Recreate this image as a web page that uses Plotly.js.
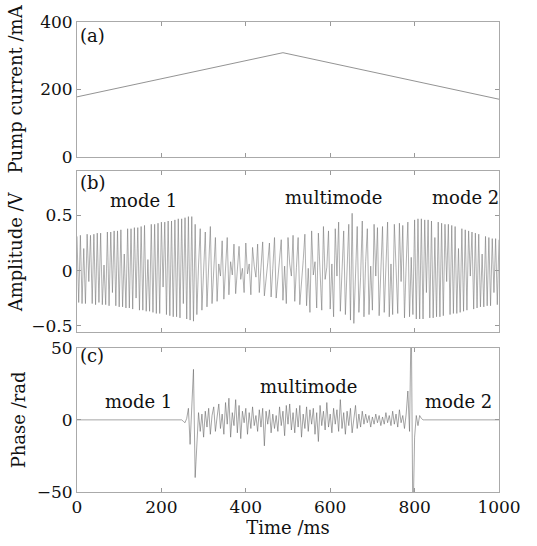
<!DOCTYPE html>
<html>
<head>
<meta charset="utf-8">
<script src="https://cdn.plot.ly/plotly-3.0.1.min.js"></script>
<style>html,body{margin:0;padding:0;background:#fff;}#chart{width:537px;height:546px;}</style>
</head>
<body>
<div id="chart"></div>
<script>
// ---- data ----
var currentTime = [0, 488, 1000];          // ms
var pumpCurrent = [178, 309, 171];         // mA

var SAMPLE_MS = 4;                         // sample spacing of the traces below (ms)
var amplitude = [
  0.31,-0.29,0.32,-0.30,0.2,-0.30,0.33,-0.1,0.32,-0.30,
  0.33,-0.31,0.34,-0.29,0.34,-0.31,0.05,-0.31,0.35,-0.32,
  0.35,-0.2,0.36,-0.32,0.36,-0.33,0.37,-0.33,0.15,-0.34,
  0.38,-0.34,0.38,-0.35,0.39,-0.25,0.39,-0.36,0.40,-0.36,
  0.41,-0.37,0.1,-0.37,0.42,-0.38,0.42,-0.39,0.43,-0.39,
  0.44,-0.15,0.44,-0.40,0.45,-0.41,0.45,-0.42,0.46,-0.42,
  0.47,-0.43,0.47,-0.3,0.48,-0.44,0.49,-0.45,0.49,-0.46,
  0.42,-0.40,0.05,0.38,-0.36,-0.02,0.35,-0.33,0.08,0.40,
  -0.30,0.02,0.30,-0.28,0.06,-0.05,0.27,-0.26,0.03,0.30,
  -0.22,0.08,-0.04,0.24,-0.21,0.05,0.22,-0.08,0.02,-0.20,
  0.25,-0.03,0.06,-0.22,0.21,0.04,-0.06,0.24,-0.20,0.03,
  0.26,-0.23,-0.04,0.07,0.25,-0.24,0.02,0.30,-0.25,-0.05,
  0.08,0.28,-0.27,0.04,-0.30,0.30,0.06,-0.05,0.32,-0.28,
  0.03,0.30,-0.31,-0.06,0.09,0.33,-0.32,0.02,-0.38,0.36,
  -0.04,0.08,-0.34,0.34,0.05,-0.36,0.40,-0.08,0.03,0.36,
  -0.35,0.06,-0.42,0.38,-0.05,0.44,-0.37,0.07,0.36,-0.40,
  0.02,0.42,-0.45,0.52,-0.48,0.06,0.40,-0.38,-0.06,0.45,
  -0.42,0.08,0.38,-0.40,0.04,-0.36,0.42,-0.05,0.39,-0.41,
  0.10,0.40,-0.38,-0.02,0.44,-0.42,0.06,-0.40,0.42,0.03,
  -0.39,0.43,-0.10,0.41,-0.43,0.05,0.44,-0.42,0.12,-0.40,0.46,-0.44,0.47,
  -0.44,0.47,-0.44,0.46,-0.20,0.46,-0.43,0.45,-0.43,0.30,
  -0.42,0.44,-0.42,0.43,-0.41,0.42,-0.10,0.42,-0.40,0.41,
  -0.39,0.40,-0.39,0.20,-0.38,0.38,-0.37,0.37,-0.36,0.36,
  -0.05,0.35,-0.35,0.34,-0.34,0.33,-0.33,0.15,-0.33,0.31,
  -0.32,0.30,-0.32,0.29,-0.20,0.29,-0.31,0.28
];
var phase = [
  0,0,0,0,0,0,0,0,0,0, 0,0,0,0,0,0,0,0,0,0,
  0,0,0,0,0,0,0,0,0,0, 0,0,0,0,0,0,0,0,0,0,
  0,0,0,0,0,0,0,0,0,0, 0,0,0,0,0,0,0,0,0,0,
  0,0,0,
  -1,-2,1,8,-17,11,35,-40,
  -15,5,-8,4,-12,6,-5,8,-10,3,
  9,-8,2,11,-6,4,-10,12,-3,15,
  -12,5,-4,14,-9,10,-13,6,-2,8,
  -10,5,-6,9,-4,3,-8,7,-5,8,
  -18,6,-3,7,-9,4,-6,3,-8,9,
  -4,6,-11,10,-3,11,-7,5,-9,8,
  -5,10,-12,4,-6,9,-8,7,-3,8,
  -10,5,-15,10,-4,6,-7,12,-5,4,
  -9,8,-3,7,-8,14,-6,5,-10,6,
  -4,8,-9,3,10,-6,4,-5,6,-3,
  4,-2,3,-5,2,-3,4,-2,3,-4,
  2,-3,5,-2,3,-4,6,-3,4,-5,
  7,-2,3,-6,4,20,-8,75,-75,-12,
  3,-4,3,1,
  0,0,0,0,0,0,0,0,0,0, 0,0,0,0,0,0,0,0,0,0,
  0,0,0,0,0,0,0,0,0,0, 0,0,0,0,0,0,0,0,0,0,
  0,0,0,0,0,0
];
var xTicks = [0, 200, 400, 600, 800, 1000];
var labels = {
  a: "(a)", b: "(b)", c: "(c)",
  m1: "mode 1", mm: "multimode", m2: "mode 2"
};

// ---- chart ----
var FONT = "DejaVu Serif, Liberation Serif, serif";

var traces = [
  {x: currentTime, y: pumpCurrent, xaxis: "x3", yaxis: "y3", mode: "lines",
   line: {color: "#777", width: 0.8}, hoverinfo: "skip"},
  {x0: 0, dx: SAMPLE_MS, y: amplitude, xaxis: "x2", yaxis: "y2", mode: "lines",
   line: {color: "#7a7a7a", width: 0.6}, hoverinfo: "skip"},
  {x0: 0, dx: SAMPLE_MS, y: phase, xaxis: "x", yaxis: "y", mode: "lines",
   line: {color: "#6a6a6a", width: 0.6}, hoverinfo: "skip"}
];

function xax(anchor, showLabels) {
  return {
    anchor: anchor, domain: [0, 1], range: [0, 1000],
    tickvals: xTicks, showticklabels: showLabels,
    ticks: "inside", ticklen: 4, tickcolor: "#999", mirror: "ticks",
    showline: true, linecolor: "#aaa", linewidth: 1,
    showgrid: false, zeroline: false,
    tickfont: {family: FONT, size: 17, color: "#111"}
  };
}
function yax(anchor, domain, range, dtick, title, standoff) {
  return {
    anchor: anchor, domain: domain, range: range, dtick: dtick, tick0: 0,
    ticks: "inside", ticklen: 4, tickcolor: "#999", mirror: "ticks",
    showline: true, linecolor: "#aaa", linewidth: 1,
    showgrid: false, zeroline: false,
    tickfont: {family: FONT, size: 17, color: "#111"},
    title: {text: title, font: {family: FONT, size: 18, color: "#111"}, standoff: standoff}
  };
}

var xa = xax("y", true);
xa.title = {text: "Time /ms", font: {family: FONT, size: 18, color: "#111"}, standoff: 4};

function ann(xref, yref, x, y, text, xanchor) {
  return {xref: xref, yref: yref, x: x, y: y, text: text, showarrow: false,
          xanchor: xanchor || "center", yanchor: "middle",
          font: {family: FONT, size: 18, color: "#111"}};
}

var layout = {
  width: 537, height: 546,
  margin: {l: 77, r: 38, t: 22, b: 54},
  paper_bgcolor: "#fff", plot_bgcolor: "#fff",
  showlegend: false,
  xaxis: xa,
  xaxis2: xax("y2", false),
  xaxis3: xax("y3", false),
  yaxis: yax("x", [0, 0.307], [-50, 50], 50, "Phase /rad", 6),
  yaxis2: yax("x2", [0.340, 0.682], [-0.56, 0.90], 0.5, "Amplitude /V", 4),
  yaxis3: yax("x3", [0.713, 1.0], [0, 400], 200, "Pump current /mA", 12),
  annotations: [
    ann("x3", "y3", 3, 361, labels.a, "left"),
    ann("x2", "y2", 3, 0.80, labels.b, "left"),
    ann("x2", "y2", 158, 0.64, labels.m1),
    ann("x2", "y2", 609, 0.66, labels.mm),
    ann("x2", "y2", 921, 0.66, labels.m2),
    ann("x", "y", 3, 44.5, labels.c, "left"),
    ann("x", "y", 146, 12.7, labels.m1),
    ann("x", "y", 549, 23, labels.mm),
    ann("x", "y", 904, 12.7, labels.m2)
  ]
};

Plotly.newPlot("chart", traces, layout, {staticPlot: true, displayModeBar: false});
</script>
</body>
</html>
